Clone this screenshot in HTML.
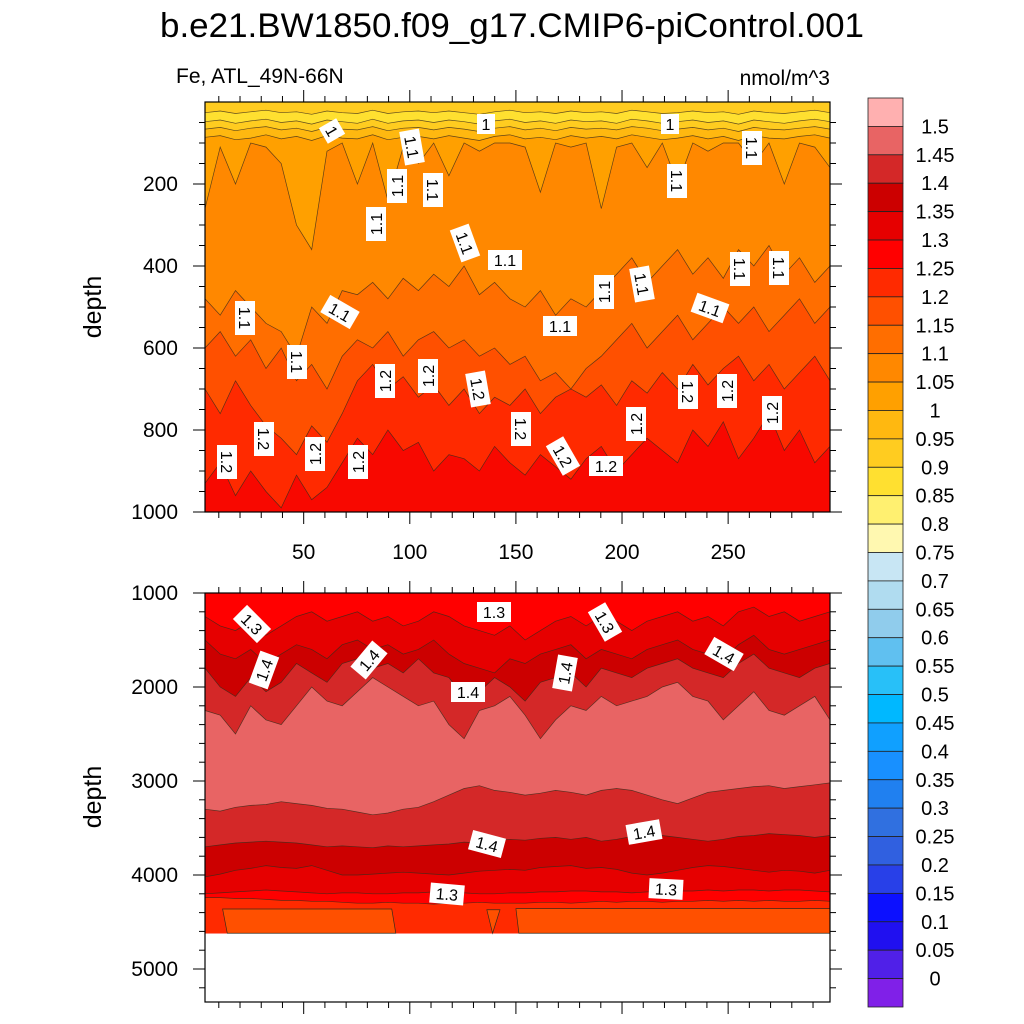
<!DOCTYPE html>
<html><head><meta charset="utf-8">
<style>
body{margin:0;background:#fff}
svg{display:block;font-family:"Liberation Sans",sans-serif}
</style></head>
<body>
<svg id="chart" width="1024" height="1024" viewBox="0 0 1024 1024" xmlns="http://www.w3.org/2000/svg">
<text x="512" y="37" font-size="34" text-anchor="middle" textLength="704" lengthAdjust="spacingAndGlyphs">b.e21.BW1850.f09_g17.CMIP6-piControl.001</text>
<text x="176" y="83" font-size="21">Fe, ATL_49N-66N</text>
<text x="830" y="85" font-size="21" text-anchor="end">nmol/m^3</text>
<text transform="translate(101,307) rotate(-90)" font-size="25" text-anchor="middle">depth</text>
<text transform="translate(101,797) rotate(-90)" font-size="25" text-anchor="middle">depth</text>
<g id="top"></g>
<g id="bot"></g>
<g id="axes"></g>
<g id="labels"></g>
<g id="cbar"></g>
</svg>
<script>
const NS="http://www.w3.org/2000/svg";
// ---- data ----
const xStart=3.5, xEnd=298;
const xTicks=[50,100,150,200,250];
const topDepthTicks=[200,400,600,800,1000];
const botDepthTicks=[1000,2000,3000,4000,5000];
// upper panel contour depths (m), 42 samples along x
const lev125=[930,880,960,900,950,990,910,970,940,880,820,860,800,850,830,900,860,870,900,840,880,910,860,890,920,870,840,900,860,820,850,880,800,840,780,870,820,760,850,800,880,840];
const lev120=[700,760,680,740,790,820,860,790,830,760,680,640,700,670,720,690,740,700,760,720,740,700,760,720,700,720,690,740,680,710,660,700,640,690,650,620,680,640,700,660,620,680];
const lev115=[600,560,620,580,650,600,680,640,700,620,580,600,560,620,580,560,600,580,620,600,640,620,680,660,700,650,620,580,540,600,560,520,580,540,500,540,500,560,520,480,540,500];
const lev110=[480,520,460,500,540,560,620,500,540,460,470,440,480,430,460,420,450,400,470,440,480,500,460,520,480,500,460,420,380,440,400,360,420,380,430,360,400,350,420,380,440,400];
const lev105=[260,110,200,100,110,150,300,360,120,100,200,100,240,110,150,100,180,100,120,100,100,110,220,100,110,100,260,110,100,160,100,200,100,120,100,100,150,100,200,100,110,160];
const lev100=[86,82,92,88,80,90,84,94,82,88,90,80,92,86,84,90,82,88,94,84,80,90,86,92,82,88,84,90,80,86,92,88,82,90,84,94,82,88,90,84,80,88];
const lev095=[66,62,70,64,60,68,64,72,62,66,68,60,70,64,62,68,62,66,72,64,60,68,64,70,62,66,64,68,60,64,70,66,62,68,64,72,62,66,68,64,60,66];
const lev090a=[26,22,28,24,20,26,24,30,22,26,28,20,28,24,22,26,22,26,30,24,20,26,24,28,22,26,24,28,20,24,28,26,22,26,24,30,22,26,28,24,20,26];
const lev090b=[48,44,52,46,42,50,46,54,44,48,52,42,52,46,44,50,44,48,54,46,42,50,46,52,44,48,46,52,42,46,52,48,44,50,46,54,44,48,52,46,42,48];
// lower panel contour depths (m)
const b130a=[1250,1350,1400,1300,1450,1350,1250,1200,1300,1250,1200,1300,1250,1350,1300,1200,1250,1350,1400,1450,1350,1500,1400,1300,1250,1350,1250,1300,1400,1300,1250,1200,1300,1250,1350,1200,1150,1250,1200,1300,1250,1200];
const b135a=[1500,1650,1700,1600,1750,1650,1550,1600,1700,1550,1500,1600,1550,1650,1600,1500,1650,1750,1800,1850,1700,1750,1650,1600,1550,1700,1600,1650,1700,1600,1550,1500,1600,1650,1700,1550,1450,1600,1650,1600,1550,1500];
const b140a=[1800,2000,2100,1900,2050,1950,1750,1850,1950,1750,1700,1800,1750,1850,1700,1850,1900,2100,2050,1900,2000,2150,1950,1900,1850,2000,1800,1850,1900,1800,1750,1700,1800,1850,1900,1750,1650,1800,1850,1900,1800,1750];
const b145a=[2250,2300,2500,2200,2350,2400,2200,2000,2150,2200,2050,1900,2000,2100,2200,2150,2400,2550,2250,2200,2100,2300,2550,2350,2200,2250,2100,2200,2150,2100,2000,1950,2100,2150,2350,2200,2050,2250,2300,2200,2100,2350];
const b145b=[3300,3320,3280,3260,3250,3220,3240,3260,3290,3300,3330,3360,3340,3300,3280,3220,3150,3080,3050,3100,3120,3150,3130,3100,3120,3150,3100,3080,3100,3150,3200,3240,3180,3120,3100,3080,3060,3050,3080,3060,3040,3020];
const b140b=[3700,3680,3660,3650,3640,3650,3660,3680,3700,3690,3700,3710,3690,3700,3690,3680,3670,3650,3660,3640,3620,3630,3610,3600,3620,3600,3640,3620,3590,3600,3580,3600,3620,3640,3620,3590,3580,3560,3570,3580,3600,3580];
const b135b=[4020,3990,3950,3930,3900,3920,3930,3900,3950,4000,4000,3990,3980,3970,3980,3990,4000,3980,3960,3950,3940,3950,3920,3910,3900,3930,3920,3940,3980,4000,3980,3950,3920,3900,3910,3930,3950,3970,3950,3960,3980,3950];
const b130b=[4200,4190,4180,4170,4160,4170,4180,4190,4200,4190,4190,4200,4200,4190,4190,4180,4180,4190,4200,4200,4190,4190,4180,4180,4170,4170,4180,4180,4190,4180,4180,4170,4170,4160,4170,4160,4160,4170,4160,4160,4170,4180];
const b125b=[4240,4240,4250,4250,4260,4270,4270,4280,4280,4290,4300,4300,4290,4300,4300,4310,4300,4300,4290,4300,4300,4300,4290,4290,4300,4290,4280,4290,4280,4280,4290,4280,4280,4270,4280,4270,4280,4270,4280,4280,4270,4280];
const trapX=[[11.8,91.5,93.4,14],[136.3,142.5,139,139],[150,298,298,151.4]];
const trapTop=[4362,4370,4358];
const seaFloor=4620;
const cbarColors=["#ffb0b0","#e86464","#d42828","#cc0000","#e60000","#ff0000","#ff2a00","#ff5000","#ff6e00","#ff8800","#ffa000","#ffb810","#ffcc20","#ffe030","#fff070","#fff8b0","#c8e6f4","#b0dcf0","#90ccec","#60c0f0","#28c0f8","#00b8ff","#10a0ff","#1890ff","#2080f0","#3070e0","#3060e0","#2840e8","#0c10ff","#2010f0","#5020e8","#8020e8"];
const cbarLabels=["1.5","1.45","1.4","1.35","1.3","1.25","1.2","1.15","1.1","1.05","1","0.95","0.9","0.85","0.8","0.75","0.7","0.65","0.6","0.55","0.5","0.45","0.4","0.35","0.3","0.25","0.2","0.15","0.1","0.05","0"];
const contourLabels=[["1",332,131,60],["1",486,124,0],["1",670,124,0],["1.1",412,147,80],["1.1",752,148,90],["1.1",397,186,-90],["1.1",433,190,90],["1.1",677,181,90],["1.1",376,224,-90],["1.1",465,243,70],["1.1",505,260,0],["1.1",245,318,90],["1.1",340,312,30],["1.1",604,292,-90],["1.1",642,284,80],["1.1",740,269,90],["1.1",779,268,90],["1.1",710,308,20],["1.1",560,326,0],["1.1",297,362,90],["1.2",385,381,-90],["1.2",428,376,-90],["1.2",478,389,80],["1.2",688,392,90],["1.2",727,391,-90],["1.2",772,413,-90],["1.2",521,429,90],["1.2",636,424,-90],["1.2",264,439,90],["1.2",227,462,90],["1.2",315,454,-90],["1.2",358,462,-90],["1.2",563,456,60],["1.2",606,466,0],["1.3",252,624,45],["1.3",494,612,0],["1.3",605,622,60],["1.4",264,670,-70],["1.4",369,660,-50],["1.4",468,692,0],["1.4",565,673,-80],["1.4",724,654,30],["1.4",487,844,15],["1.4",644,832,-10],["1.3",447,894,5],["1.3",666,889,3]];
// ---- axis functions ----
const L=205,R=830,TT=102,TB=512,BT=593,BB=1002;
const X=v=>L+(v-xStart)*(R-L)/(xEnd-xStart);
const YT=d=>TT+d*(TB-TT)/1000;
const YB=d=>BT+(d-1000)*94/1000;
const xAt=i=>xStart+i*(xEnd-xStart)/41;
function mk(tag,attrs,parent){const e=document.createElementNS(NS,tag);for(const k in attrs)e.setAttribute(k,attrs[k]);parent.appendChild(e);return e;}
function pts(arr,Y){return arr.map((d,i)=>X(xAt(i)).toFixed(1)+","+Y(d).toFixed(1)).join(" L");}
function fillAbove(g,arr,Y,top,col,name){
  const p=mk("path",{d:"M"+L+","+top+" L"+pts(arr,Y)+" L"+R+","+top+" Z",fill:col,stroke:"none"},g);
  
  
}
function fillBelow(g,arr,Y,bot,col,name){
  const p=mk("path",{d:"M"+L+","+bot+" L"+pts(arr,Y)+" L"+R+","+bot+" Z",fill:col,stroke:"none"},g);
  
  
}
function line(g,arr,Y,name){
  const p=mk("path",{d:"M"+pts(arr,Y),fill:"none",stroke:"#3a2a1a","stroke-width":0.7,"stroke-opacity":0.8},g);
  
  
}
// upper panel
const gt=document.getElementById("top");
const bg=mk("rect",{x:L,y:TT,width:R-L,height:TB-TT,fill:"#ff2a00"},gt);


fillBelow(gt,lev125,YT,TB,"#f80800","band-1.25-1.3");
fillAbove(gt,lev120,YT,TT,"#ff5000","band-1.15-1.2");
fillAbove(gt,lev115,YT,TT,"#ff6e00","band-1.1-1.15");
fillAbove(gt,lev110,YT,TT,"#ff8800","band-1.05-1.1");
fillAbove(gt,lev105,YT,TT,"#ffa000","band-1-1.05");
fillAbove(gt,lev100,YT,TT,"#ffb810","band-0.95-1");
fillAbove(gt,lev095,YT,TT,"#ffcc20","band-0.9-0.95");
fillAbove(gt,lev090b,YT,TT,"#ffe030","band-0.85-0.9");
fillAbove(gt,lev090a,YT,TT,"#ffcc20","band-surface");
[lev125,lev120,lev115,lev110,lev105,lev100,lev095,lev090a,lev090b].forEach(a=>line(gt,a,YT,"contour-line-upper"));
// lower panel
const gb=document.getElementById("bot");
const bb=mk("rect",{x:L,y:BT,width:R-L,height:YB(seaFloor)-BT,fill:"#e86464"},gb);


fillAbove(gb,b145a,YB,BT,"#d42828","band-1.4-1.45-upper");
fillAbove(gb,b140a,YB,BT,"#cc0000","band-1.35-1.4-upper");
fillAbove(gb,b135a,YB,BT,"#e60000","band-1.3-1.35-upper");
fillAbove(gb,b130a,YB,BT,"#ff0000","band-1.25-1.3-upper");
const fl=YB(seaFloor);
fillBelow(gb,b145b,YB,fl,"#d42828","band-1.4-1.45-lower");
fillBelow(gb,b140b,YB,fl,"#cc0000","band-1.35-1.4-lower");
fillBelow(gb,b135b,YB,fl,"#e60000","band-1.3-1.35-lower");
fillBelow(gb,b130b,YB,fl,"#ff0000","band-1.25-1.3-lower");
fillBelow(gb,b125b,YB,fl,"#ff2a00","band-1.2-1.25-lower");
trapX.forEach((t,i)=>{
  const p=mk("polygon",{points:X(t[0])+","+YB(trapTop[i])+" "+X(t[1])+","+YB(trapTop[i])+" "+X(t[2])+","+fl+" "+X(t[3])+","+fl,fill:"#ff5000",stroke:"#3a2a1a","stroke-width":0.7},gb);
  
  
});
[b130a,b135a,b140a,b145a,b145b,b140b,b135b,b130b,b125b].forEach(a=>line(gb,a,YB,"contour-line-lower"));
// axes
const ga=document.getElementById("axes");
function ln(x1,y1,x2,y2,w,name){const e=mk("line",{x1,y1,x2,y2,stroke:"#000","stroke-width":w},ga);}
function tx(s,x,y,anchor,name){const e=mk("text",{x,y,"font-size":21,"text-anchor":anchor},ga);e.textContent=s;}
[[TT,TB],[BT,BB]].forEach(([t,b])=>{
  const r=mk("rect",{x:L,y:t,width:R-L,height:b-t,fill:"none",stroke:"#000","stroke-width":1.2},ga);
  
  
  for(let v=10;v<=290;v+=10){const maj=v%50===0;const len=maj?12:6;
    ln(X(v),t,X(v),t-len,1,"x-tick");ln(X(v),b,X(v),b+len,1,"x-tick");}
});
xTicks.forEach(v=>tx(String(v),X(v),559,"middle","x-tick-label"));
for(let d=50;d<=1000;d+=50){const maj=d%200===0;const len=maj?12:6;ln(L,YT(d),L-len,YT(d),1,"y-tick");ln(R,YT(d),R+len,YT(d),1,"y-tick");}
topDepthTicks.forEach(d=>tx(String(d),L-27,YT(d)+7,"end","y-tick-label"));
for(let d=1000;d<=5300;d+=200){const maj=d%1000===0;const len=maj?12:6;ln(L,YB(d),L-len,YB(d),1,"y-tick");ln(R,YB(d),R+len,YB(d),1,"y-tick");}
botDepthTicks.forEach(d=>tx(String(d),L-27,YB(d)+7,"end","y-tick-label"));
// contour labels
const gl=document.getElementById("labels");
contourLabels.forEach(c=>{
  const g=mk("g",{transform:"translate("+c[1]+","+c[2]+") rotate("+c[3]+")"},gl);
  
  
  const w=c[0].length*8+10;
  mk("rect",{x:-w/2,y:-10,width:w,height:20,fill:"#fff"},g);
  const t=mk("text",{x:0,y:6,"font-size":16,"text-anchor":"middle"},g);t.textContent=c[0];
});
// colorbar
const gc=document.getElementById("cbar");
const cbT=98,cbH=(1007-98)/32;
cbarColors.forEach((c,i)=>{
  const r=mk("rect",{x:868,y:cbT+i*cbH,width:35,height:cbH,fill:c,stroke:"#222","stroke-width":0.8},gc);
  
  
});
cbarLabels.forEach((s,i)=>{
  const t=mk("text",{x:935,y:cbT+(i+1)*cbH+7,"font-size":20,"text-anchor":"middle"},gc);
  t.textContent=s;
  
  
});
</script>
</body></html>
